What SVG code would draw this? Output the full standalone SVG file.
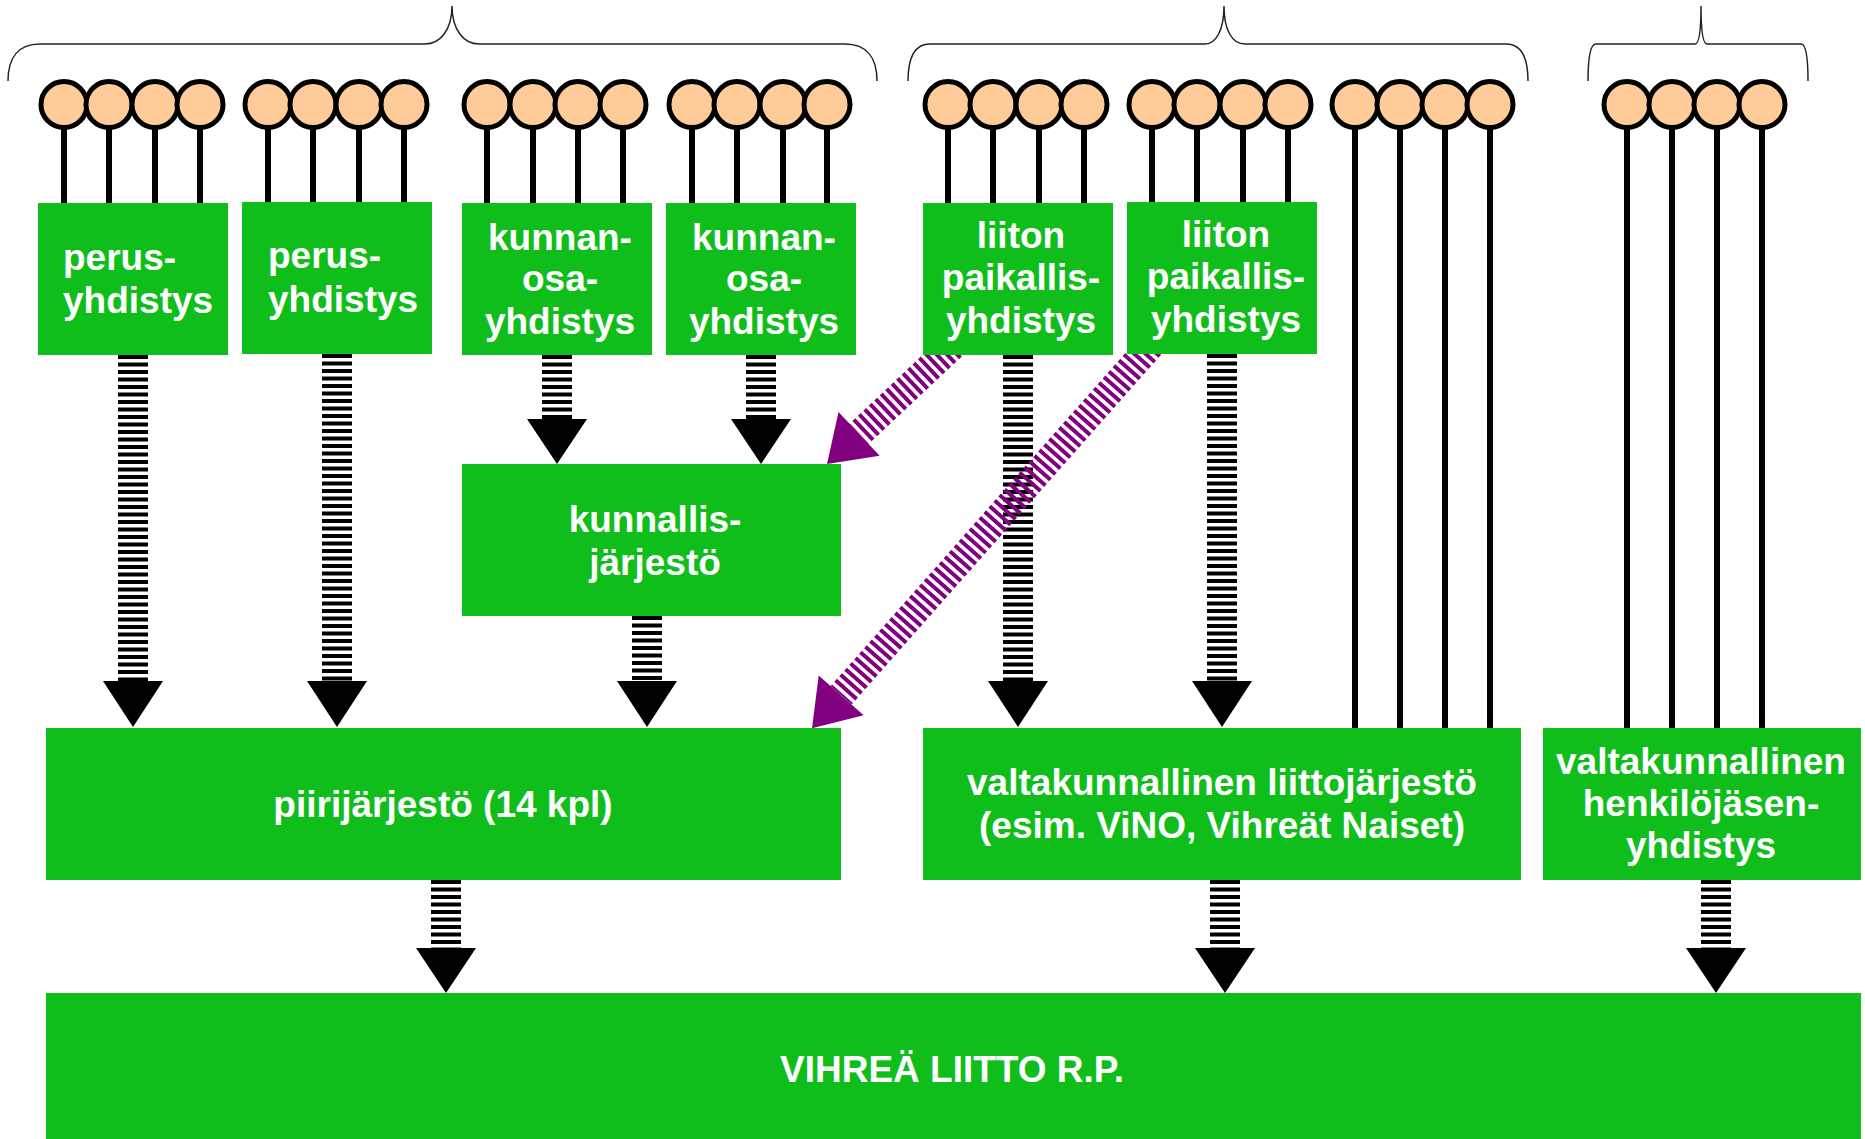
<svg xmlns="http://www.w3.org/2000/svg" width="1865" height="1139" viewBox="0 0 1865 1139">
<style>
.box{fill:#0FBE1B}
.t{font-family:"Liberation Sans",Arial,sans-serif;font-weight:bold;font-size:37px;fill:#fff}
.m{text-anchor:middle}
.stem{stroke:#000;stroke-width:6}
.ball{fill:#FFCC99;stroke:#000;stroke-width:5}
.brace{fill:none;stroke:#222;stroke-width:1.5}
.shaft{stroke:#000;stroke-width:30;stroke-dasharray:4 3.5;fill:none}
.pshaft{stroke:#800080;stroke-width:28;stroke-dasharray:4 3.5;fill:none}
.head{fill:#000}
.phead{fill:#800080}
</style>
<rect width="1865" height="1139" fill="#fff"/>

<g id="braces">
<path class="brace" d="M8,81 C8,58 18,44 40,44 L425,44 C440,44 452,30 452,6 C452,30 464,44 479,44 L845,44 C867,44 877,58 877,81"/>
<path class="brace" d="M908,81 C908,58 915,44 930,44 L1205,44 C1216,44 1224,30 1224,6 C1224,30 1232,44 1245,44 L1506,44 C1521,44 1528,58 1528,81"/>
<path class="brace" d="M1588,81 C1588,58 1590,44 1596,44 L1695,44 C1699,44 1701,30 1701,6 C1701,30 1703,44 1707,44 L1801,44 C1806,44 1808,58 1808,81"/>
</g>

<g id="members">
<g class="stem">
<line x1="64" y1="104" x2="64" y2="203"/><line x1="109" y1="104" x2="109" y2="203"/><line x1="155" y1="104" x2="155" y2="203"/><line x1="200" y1="104" x2="200" y2="203"/>
<line x1="268" y1="104" x2="268" y2="203"/><line x1="313" y1="104" x2="313" y2="203"/><line x1="359" y1="104" x2="359" y2="203"/><line x1="404" y1="104" x2="404" y2="203"/>
<line x1="487" y1="104" x2="487" y2="203"/><line x1="533" y1="104" x2="533" y2="203"/><line x1="578" y1="104" x2="578" y2="203"/><line x1="623" y1="104" x2="623" y2="203"/>
<line x1="692" y1="104" x2="692" y2="203"/><line x1="737" y1="104" x2="737" y2="203"/><line x1="783" y1="104" x2="783" y2="203"/><line x1="827" y1="104" x2="827" y2="203"/>
<line x1="948" y1="104" x2="948" y2="203"/><line x1="993" y1="104" x2="993" y2="203"/><line x1="1039" y1="104" x2="1039" y2="203"/><line x1="1084" y1="104" x2="1084" y2="203"/>
<line x1="1152" y1="104" x2="1152" y2="203"/><line x1="1197" y1="104" x2="1197" y2="203"/><line x1="1243" y1="104" x2="1243" y2="203"/><line x1="1288" y1="104" x2="1288" y2="203"/>
<line x1="1355" y1="104" x2="1355" y2="728"/><line x1="1400" y1="104" x2="1400" y2="728"/><line x1="1445" y1="104" x2="1445" y2="728"/><line x1="1490" y1="104" x2="1490" y2="728"/>
<line x1="1627" y1="104" x2="1627" y2="728"/><line x1="1672" y1="104" x2="1672" y2="728"/><line x1="1717" y1="104" x2="1717" y2="728"/><line x1="1762" y1="104" x2="1762" y2="728"/>
</g>
<g class="ball">
<circle cx="64" cy="104.5" r="23"/><circle cx="109" cy="104.5" r="23"/><circle cx="155" cy="104.5" r="23"/><circle cx="200" cy="104.5" r="23"/>
<circle cx="268" cy="104.5" r="23"/><circle cx="313" cy="104.5" r="23"/><circle cx="359" cy="104.5" r="23"/><circle cx="404" cy="104.5" r="23"/>
<circle cx="487" cy="104.5" r="23"/><circle cx="533" cy="104.5" r="23"/><circle cx="578" cy="104.5" r="23"/><circle cx="623" cy="104.5" r="23"/>
<circle cx="692" cy="104.5" r="23"/><circle cx="737" cy="104.5" r="23"/><circle cx="783" cy="104.5" r="23"/><circle cx="827" cy="104.5" r="23"/>
<circle cx="948" cy="104.5" r="23"/><circle cx="993" cy="104.5" r="23"/><circle cx="1039" cy="104.5" r="23"/><circle cx="1084" cy="104.5" r="23"/>
<circle cx="1152" cy="104.5" r="23"/><circle cx="1197" cy="104.5" r="23"/><circle cx="1243" cy="104.5" r="23"/><circle cx="1288" cy="104.5" r="23"/>
<circle cx="1355" cy="104.5" r="23"/><circle cx="1400" cy="104.5" r="23"/><circle cx="1445" cy="104.5" r="23"/><circle cx="1490" cy="104.5" r="23"/>
<circle cx="1627" cy="104.5" r="23"/><circle cx="1672" cy="104.5" r="23"/><circle cx="1717" cy="104.5" r="23"/><circle cx="1762" cy="104.5" r="23"/>
</g>
</g>

<g id="connectors">
<line class="shaft" x1="133" y1="355" x2="133" y2="681"/><polygon class="head" points="103,681 163,681 133,727"/>
<line class="shaft" x1="337" y1="354" x2="337" y2="681"/><polygon class="head" points="307,681 367,681 337,727"/>
<line class="shaft" x1="557" y1="355" x2="557" y2="419"/><polygon class="head" points="527,419 587,419 557,464"/>
<line class="shaft" x1="761" y1="355" x2="761" y2="419"/><polygon class="head" points="731,419 791,419 761,464"/>
<line class="shaft" x1="647" y1="616" x2="647" y2="681"/><polygon class="head" points="617,681 677,681 647,727"/>
<line class="shaft" x1="1018" y1="355" x2="1018" y2="681"/><polygon class="head" points="988,681 1048,681 1018,727"/>
<line class="shaft" x1="1222" y1="354" x2="1222" y2="681"/><polygon class="head" points="1192,681 1252,681 1222,727"/>
<line class="shaft" x1="446" y1="880" x2="446" y2="948"/><polygon class="head" points="416,948 476,948 446,993"/>
<line class="shaft" x1="1225" y1="880" x2="1225" y2="948"/><polygon class="head" points="1195,948 1255,948 1225,993"/>
<line class="shaft" x1="1716" y1="880" x2="1716" y2="948"/><polygon class="head" points="1686,948 1746,948 1716,993"/>
<g transform="translate(952.3,346.2) rotate(136.75)"><line class="pshaft" x1="0" y1="0" x2="128" y2="0"/><polygon class="phead" points="128,-30 172,0 128,30"/></g>
<g transform="translate(1150.6,345.5) rotate(131.5)"><line class="pshaft" x1="0" y1="0" x2="467" y2="0"/><polygon class="phead" points="467,-30 511,0 467,30"/></g>
</g>

<g id="perus1"><rect class="box" x="38" y="203" width="190" height="152"/><text class="t" x="63" y="270">perus-</text><text class="t" x="63" y="313">yhdistys</text></g>
<g id="perus2"><rect class="box" x="242" y="202" width="190" height="152"/><text class="t" x="268" y="268">perus-</text><text class="t" x="268" y="312">yhdistys</text></g>
<g id="kunnanosa1"><rect class="box" x="462" y="203" width="190" height="152"/><text class="t m" x="560" y="250">kunnan-</text><text class="t m" x="560" y="291">osa-</text><text class="t m" x="560" y="334">yhdistys</text></g>
<g id="kunnanosa2"><rect class="box" x="666" y="203" width="190" height="152"/><text class="t m" x="764" y="250">kunnan-</text><text class="t m" x="764" y="291">osa-</text><text class="t m" x="764" y="334">yhdistys</text></g>
<g id="liiton1"><rect class="box" x="923" y="203" width="190" height="152"/><text class="t m" x="1021" y="248">liiton</text><text class="t m" x="1021" y="290">paikallis-</text><text class="t m" x="1021" y="333">yhdistys</text></g>
<g id="liiton2"><rect class="box" x="1127" y="202" width="190" height="152"/><text class="t m" x="1226" y="247">liiton</text><text class="t m" x="1226" y="289">paikallis-</text><text class="t m" x="1226" y="332">yhdistys</text></g>
<g id="kunnallis"><rect class="box" x="462" y="464" width="379" height="152"/><text class="t m" x="655" y="532">kunnallis-</text><text class="t m" x="655" y="575">järjestö</text></g>
<g id="piiri"><rect class="box" x="46" y="728" width="795" height="152"/><text class="t m" x="443" y="817">piirijärjestö (14 kpl)</text></g>
<g id="liitto"><rect class="box" x="923" y="728" width="598" height="152"/><text class="t m" x="1222" y="795">valtakunnallinen liittojärjestö</text><text class="t m" x="1222" y="838">(esim. ViNO, Vihreät Naiset)</text></g>
<g id="henkilo"><rect class="box" x="1543" y="728" width="318" height="152"/><text class="t m" x="1701" y="774">valtakunnallinen</text><text class="t m" x="1701" y="816">henkilöjäsen-</text><text class="t m" x="1701" y="858">yhdistys</text></g>
<g id="vihrea"><rect class="box" x="46" y="993" width="1815" height="146"/><text class="t m" x="952" y="1082">VIHREÄ LIITTO R.P.</text></g>
</svg>
